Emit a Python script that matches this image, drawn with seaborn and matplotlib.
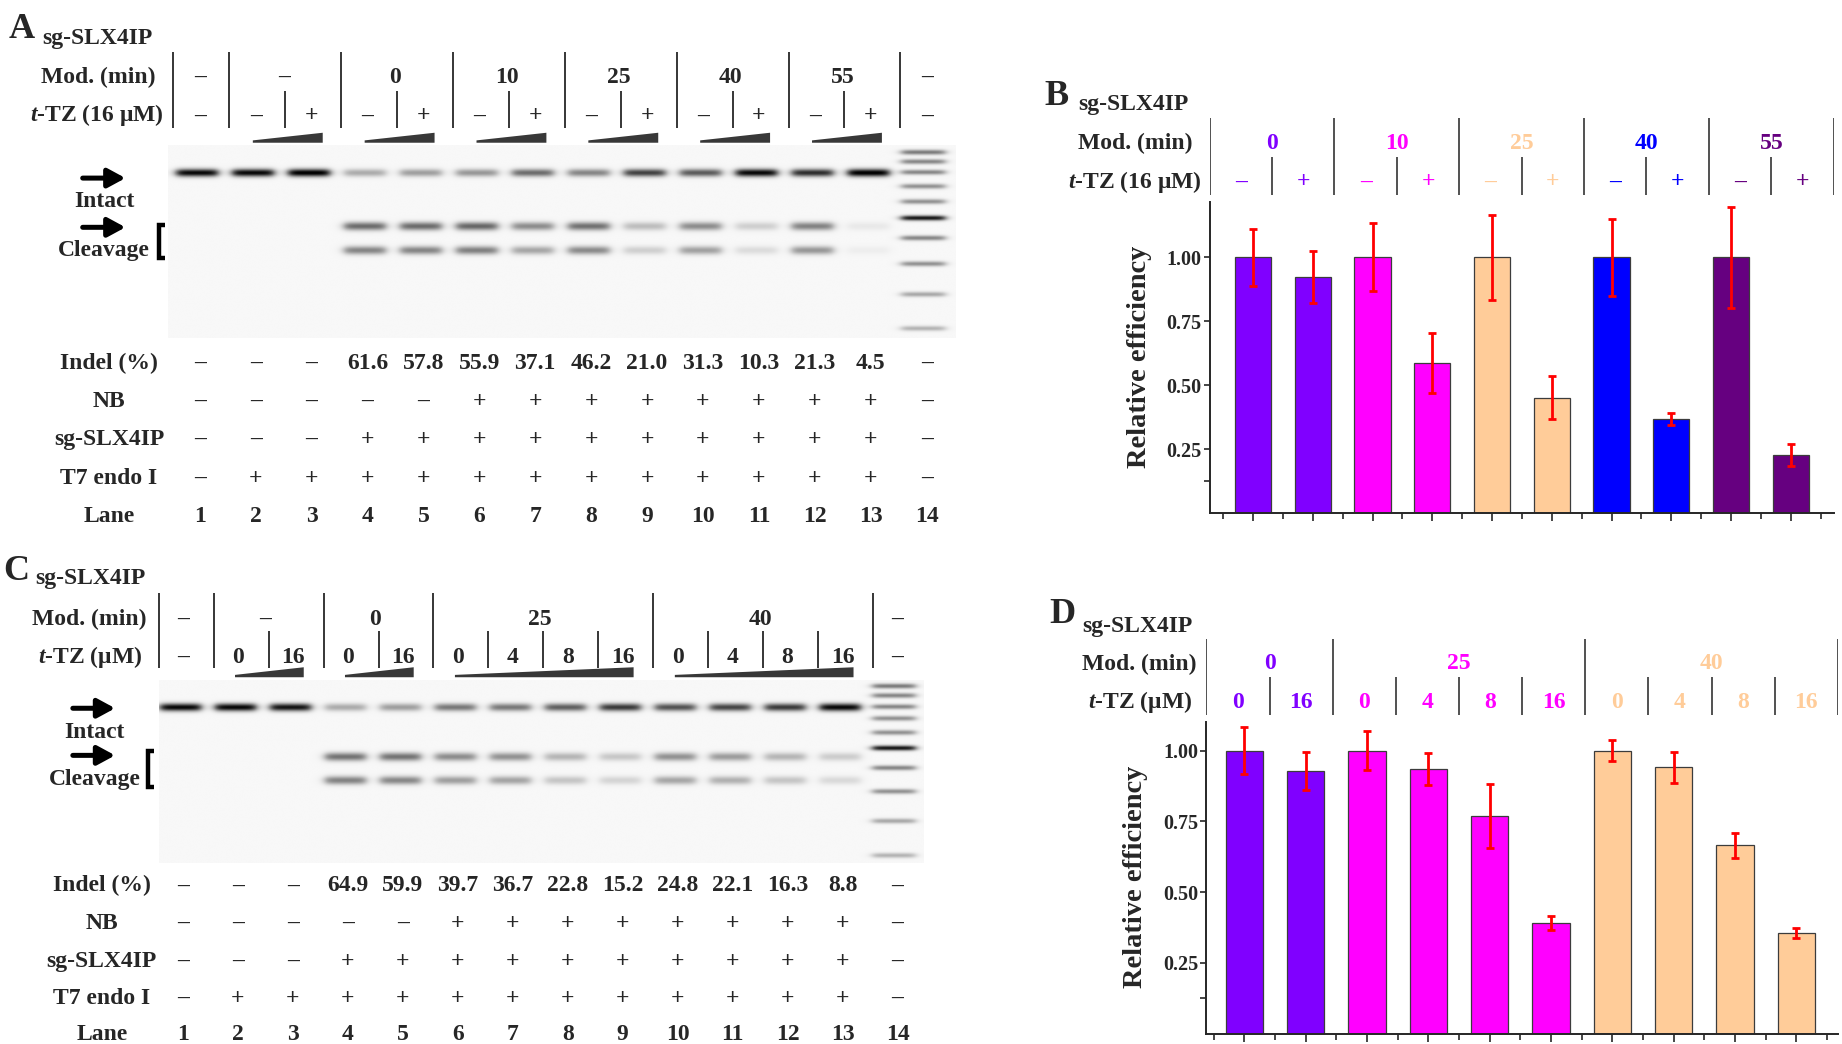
import numpy as np
import pandas as pd
import matplotlib
matplotlib.use("Agg")
import matplotlib.pyplot as plt
import seaborn as sns
from matplotlib.ticker import FixedLocator, FormatStrFormatter

sns.set_style("ticks")
plt.rcParams['font.family'] = ['Liberation Serif', 'DejaVu Serif']
plt.rcParams['font.weight'] = 'bold'
plt.rcParams['mathtext.fontset'] = 'custom'
plt.rcParams['mathtext.it'] = 'Liberation Serif:italic:bold'
plt.rcParams['mathtext.rm'] = 'Liberation Serif:bold'
plt.rcParams['mathtext.bf'] = 'Liberation Serif:bold'

# ---------------------------------------------------------------- data
lanes = list(range(1, 15))
row_names = ["Indel (%)", "NB", "sg-SLX4IP", "T7 endo I", "Lane"]

A_mod_labels = ["–", "–", "0", "10", "25", "40", "55", "–"]
A_mod_spans = [(1, 1), (2, 3), (4, 5), (6, 7), (8, 9), (10, 11), (12, 13), (14, 14)]
A_ttz = ["–", "–", "+", "–", "+", "–", "+", "–", "+", "–", "+", "–", "+", "–"]
A_wedges = [(2, 3), (4, 5), (6, 7), (8, 9), (10, 11), (12, 13)]
A_indel = ["–", "–", "–", "61.6", "57.8", "55.9", "37.1", "46.2", "21.0",
           "31.3", "10.3", "21.3", "4.5", "–"]
NB_row = ["–"] * 5 + ["+"] * 8 + ["–"]
SG_row = ["–"] * 3 + ["+"] * 10 + ["–"]
T7_row = ["–"] + ["+"] * 12 + ["–"]
A_intact = [0.95, 0.95, 1.00, 0.30, 0.35, 0.38, 0.55, 0.45, 0.72, 0.62, 0.95, 0.80, 1.00]
A_cleave1 = [0, 0, 0, 0.55, 0.55, 0.57, 0.42, 0.53, 0.23, 0.42, 0.16, 0.46, 0.06]
A_cleave2 = [0, 0, 0, 0.45, 0.45, 0.47, 0.32, 0.43, 0.16, 0.34, 0.11, 0.38, 0.04]

C_mod_labels = ["–", "–", "0", "25", "40", "–"]
C_mod_spans = [(1, 1), (2, 3), (4, 5), (6, 9), (10, 13), (14, 14)]
C_ttz = ["–", "0", "16", "0", "16", "0", "4", "8", "16", "0", "4", "8", "16", "–"]
C_wedges = [(2, 3), (4, 5), (6, 9), (10, 13)]
C_indel = ["–", "–", "–", "64.9", "59.9", "39.7", "36.7", "22.8", "15.2",
           "24.8", "22.1", "16.3", "8.8", "–"]
C_intact = [0.95, 0.95, 0.90, 0.30, 0.35, 0.50, 0.50, 0.60, 0.75, 0.65, 0.70, 0.75, 0.95]
C_cleave1 = [0, 0, 0, 0.52, 0.52, 0.42, 0.40, 0.26, 0.19, 0.40, 0.36, 0.26, 0.17]
C_cleave2 = [0, 0, 0, 0.46, 0.44, 0.35, 0.33, 0.20, 0.14, 0.32, 0.28, 0.20, 0.12]

ladder_int = [0.55, 0.50, 0.50, 0.45, 0.45, 1.00, 0.50, 0.45, 0.35, 0.30]

B_mod_labels = ["0", "10", "25", "40", "55"]
B_mod_spans = [(0, 1), (2, 3), (4, 5), (6, 7), (8, 9)]
B_ttz = ["–", "+", "–", "+", "–", "+", "–", "+", "–", "+"]
B_values = [1.00, 0.923, 1.00, 0.587, 1.00, 0.452, 1.00, 0.368, 1.00, 0.229]
B_errors = [0.112, 0.101, 0.132, 0.116, 0.165, 0.085, 0.150, 0.024, 0.198, 0.043]
B_group_colors = ["#8000FF", "#FF00FF", "#FFCC99", "#0000FF", "#660080"]

D_mod_labels = ["0", "25", "40"]
D_mod_spans = [(0, 1), (2, 5), (6, 9)]
D_ttz = ["0", "16", "0", "4", "8", "16", "0", "4", "8", "16"]
D_values = [1.00, 0.927, 1.00, 0.934, 0.768, 0.392, 1.00, 0.941, 0.666, 0.356]
D_errors = [0.083, 0.067, 0.070, 0.056, 0.113, 0.025, 0.036, 0.054, 0.044, 0.017]
D_group_colors = ["#8000FF", "#FF00FF", "#FFCC99"]

# ---------------------------------------------------------------- figure
W, H = 1568.0, 888.7          # layout units (scaled to 1842x1044 output)
fig = plt.figure(figsize=(18.42, 10.44), dpi=100)
fig.patch.set_facecolor("white")
FS = 17


def frect(x0, y0, x1, y1):
    return [x0 / W, 1 - y1 / H, (x1 - x0) / W, (y1 - y0) / H]


def ftext(x, y, s, **kw):
    fig.text(x / W, 1 - y / H, s, **kw)


def panel_label(x, y, letter, xs, ys):
    ftext(x, y, letter, fontsize=26, ha="left", va="baseline", fontweight="bold")
    ftext(xs, ys, "sg-SLX4IP", fontsize=FS, ha="left", va="baseline", fontweight="bold")


def gel_panel(area, lane1_x, dlane, spec):
    x0d, y0d, x1d, y1d = area
    ax = fig.add_axes(frect(x0d, y0d, x1d, y1d))
    L = lambda xd: (xd - lane1_x) / dlane + 1
    ax.set_axis_off()

    # header divider lines
    for (a, b) in spec["mod_spans"]:
        ax.vlines(a - 0.5 + spec["vshift"], spec["hdr_top"], spec["hdr_bot"], color="k", lw=1.1)
        for k in range(a, b):
            ax.vlines(k + 0.5 + spec["vshift"], spec["short_top"], spec["hdr_bot"], color="k", lw=1.1)
    # header texts
    off = 6.3
    ax.text(L(spec["lab_right"]), spec["mod_y"] + off, "Mod. (min)", ha="right", va="baseline", fontsize=FS)
    ax.text(L(spec["lab_right2"]), spec["ttz_y"] + off, spec["ttz_label"], ha="right", va="baseline", fontsize=FS)
    for lab, (a, b) in zip(spec["mod_labels"], spec["mod_spans"]):
        ax.text((a + b) / 2, spec["mod_y"] + off, lab, ha="center", va="baseline", fontsize=FS)
    for ln, lab in zip(lanes, spec["ttz"]):
        ax.text(ln, spec["ttz_y"] + off, lab, ha="center", va="baseline", fontsize=FS)
    # wedges
    for (a, b) in spec["wedges"]:
        xa, xb = a - 0.05, b + 0.2
        ax.fill([xa, xb, xb, xa], [spec["w_bot"], spec["w_bot"], spec["w_bot"] - 8.5, spec["w_bot"] - 2.0],
                color="#383838", lw=0)

    # gel image built from band intensities
    gx0, gx1 = L(spec["gel_x"][0]), L(spec["gel_x"][1])
    gy0, gy1 = spec["gel_y"]
    xs = np.linspace(gx0, gx1, 1400)
    ys = np.linspace(gy0, gy1, 500)
    X, Y = np.meshgrid(xs, ys)
    img = np.full_like(X, 0.03)

    def hbox(xc, half, soft=0.045):
        return 1.0 / (1.0 + np.exp((np.abs(X - xc) - half) / soft))

    rows = [(spec["band_y"][0], spec["intact"], 2.3),
            (spec["band_y"][1], spec["cleave1"], 2.5),
            (spec["band_y"][2], spec["cleave2"], 2.5)]
    for yr, ints, sig in rows:
        for ln, inten in zip(lanes[:13], ints):
            if inten > 0:
                img += inten * hbox(ln - 0.05, 0.37) * np.exp(-0.5 * ((Y - yr) / sig) ** 2)
    for yr, inten in zip(spec["ladder_y"], ladder_int):
        img += inten * 0.9 * hbox(13.93, 0.39) * np.exp(-0.5 * ((Y - yr) / 1.5) ** 2)
    img = np.clip(img, 0, 1)
    ax.imshow(img, cmap="gray_r", vmin=0, vmax=1, extent=(gx0, gx1, gy1, gy0),
              aspect="auto", interpolation="bilinear", zorder=0)

    # arrows / labels
    ax0, ax1 = spec["arrow_x"]
    for yy in spec["arrow_y"]:
        ax.annotate("", xy=(L(ax1), yy), xytext=(L(ax0), yy),
                    arrowprops=dict(arrowstyle="-|>,head_width=0.38,head_length=0.7",
                                    lw=3.6, color="k", mutation_scale=15, shrinkA=0, shrinkB=0))
    ax.text(L(spec["lbl_x"]), spec["intact_y"] + off, "Intact", ha="center", va="baseline", fontsize=FS)
    ax.text(L(spec["lbl_x"]), spec["cleav_y"] + off, "Cleavage", ha="center", va="baseline", fontsize=FS)
    bx0, bx1 = spec["brk_x"]
    by0, by1 = spec["brk_y"]
    ax.plot([L(bx1), L(bx0), L(bx0), L(bx1)], [by0, by0, by1, by1], color="k", lw=3.2,
            solid_capstyle="butt", solid_joinstyle="miter")

    # bottom rows
    for name, vals, yy in zip(row_names, spec["rows"], spec["rows_y"]):
        ax.text(L(spec["row_lab_x"]), yy + off, name, ha="center", va="baseline", fontsize=FS)
        for ln, v in zip(lanes, vals):
            ax.text(ln, yy + off, v, ha="center", va="baseline", fontsize=FS)

    ax.set_xlim(L(x0d), L(x1d))
    ax.set_ylim(y1d, y0d)
    return ax


# ---------------- Panel A
panel_label(7.0, 32.4, "A", 36, 37.6)
gel_panel((0, 0, 840, 455), 170.0, 47.6, dict(
    mod_spans=A_mod_spans, mod_labels=A_mod_labels, ttz=A_ttz, wedges=A_wedges,
    vshift=0.03, hdr_top=44, hdr_bot=109, short_top=77.2,
    lab_right=132, lab_right2=139.7, ttz_label=r"$\mathit{t}$-TZ (16 μM)",
    mod_y=64.2, ttz_y=97, w_bot=121.5,
    gel_x=(143, 813), gel_y=(124, 288),
    band_y=(147.5, 193, 213.5), intact=A_intact, cleave1=A_cleave1, cleave2=A_cleave2,
    ladder_y=[130, 138, 147, 159, 172, 186, 203, 225, 251, 280],
    arrow_x=(70.4, 106.8), arrow_y=(151.6, 193.5), lbl_x=88.6, intact_y=170, cleav_y=212,
    brk_x=(135.5, 140.5), brk_y=(191.5, 219.5),
    rows=[A_indel, NB_row, SG_row, T7_row, [str(l) for l in lanes]],
    rows_y=[307.8, 340.3, 372.6, 405.6, 438], row_lab_x=92.8))

# ---------------- Panel C
panel_label(2.5, 494, "C", 30, 497)
gel_panel((0, 460, 840, 888.7), 155.6, 46.8, dict(
    mod_spans=C_mod_spans, mod_labels=C_mod_labels, ttz=C_ttz, wedges=C_wedges,
    vshift=0.06, hdr_top=504.6, hdr_bot=568.7, short_top=537,
    lab_right=125, lab_right2=121.5, ttz_label=r"$\mathit{t}$-TZ (μM)",
    mod_y=526, ttz_y=558, w_bot=576.5,
    gel_x=(135, 786), gel_y=(580, 735),
    band_y=(603, 645, 665), intact=C_intact, cleave1=C_cleave1, cleave2=C_cleave2,
    ladder_y=[585, 593, 602.5, 612.4, 624.4, 637.6, 654.4, 674.4, 699.5, 728.7],
    arrow_x=(62, 98), arrow_y=(602.9, 643), lbl_x=80.6, intact_y=621.9, cleav_y=661.9,
    brk_x=(126, 131), brk_y=(639, 670),
    rows=[C_indel, NB_row, SG_row, T7_row, [str(l) for l in lanes]],
    rows_y=[752.5, 784.5, 816.5, 848.5, 878.8], row_lab_x=86.7))


# ---------------- bar panels
def bar_panel(ax_area, hdr_area, mod_labels, mod_spans, ttz, values, errors, group_colors,
              xlim, ylim, mod_lab_x, ttz_lab_x, ttz_label, ylab_xy):
    colors = []
    mod_col = []
    for (a, b), c in zip(mod_spans, group_colors):
        colors += [c] * (b - a + 1)
        mod_col.append(c)
    cats = [f"{i}" for i in range(len(values))]
    df = pd.DataFrame({"cond": cats, "value": values})

    ax = fig.add_axes(frect(*ax_area))
    sns.barplot(data=df, x="cond", y="value", hue="cond", order=cats, hue_order=cats,
                palette=dict(zip(cats, colors)), legend=False, width=0.61, saturation=1,
                edgecolor="#3c3c3c", linewidth=0.9, ax=ax)
    ax.errorbar(np.arange(len(values)), values, yerr=errors, fmt="none", ecolor="red",
                elinewidth=2.0, capsize=3.2, capthick=2.0, zorder=5)
    ax.set_xlim(*xlim)
    ax.set_ylim(*ylim)
    ax.set_xlabel("")
    ax.set_ylabel("")
    sns.despine(ax=ax)
    for sp in ("left", "bottom"):
        ax.spines[sp].set_linewidth(1.4)
    ax.xaxis.set_major_locator(FixedLocator(np.arange(len(values))))
    ax.xaxis.set_minor_locator(FixedLocator(np.arange(len(values) + 1) - 0.5))
    ax.tick_params(axis="x", which="major", length=6, width=1.2, direction="out", labelbottom=False)
    ax.tick_params(axis="x", which="minor", length=4, width=1.2, direction="out")
    ax.yaxis.set_major_locator(FixedLocator([0.25, 0.50, 0.75, 1.00]))
    ax.yaxis.set_minor_locator(FixedLocator([0.125]))
    ax.yaxis.set_major_formatter(FormatStrFormatter("%.2f"))
    ax.tick_params(axis="y", which="both", length=4, width=1.2, direction="out", labelsize=14.5, pad=2)
    for t in ax.get_yticklabels():
        t.set_fontweight("bold")
    ftext(ylab_xy[0], ylab_xy[1], "Relative efficiency", rotation=90, ha="center", va="center",
          fontsize=20.5, fontweight="bold")

    hx = fig.add_axes(frect(*hdr_area))
    hx.set_axis_off()
    n = len(values)
    hx.set_xlim(0, n)
    hx.set_ylim(0, 1)
    for (a, b) in mod_spans:
        hx.vlines(a, 0, 1, color="#222222", lw=1.1)
        for k in range(a + 1, b + 1):
            hx.vlines(k, 0, 0.5, color="#222222", lw=1.1)
    hx.vlines(n, 0, 1, color="#222222", lw=1.1)
    hx.text(mod_lab_x, 0.672, "Mod. (min)", ha="right", va="center", fontsize=FS)
    hx.text(ttz_lab_x, 0.17, ttz_label, ha="right", va="center", fontsize=FS)
    for lab, (a, b), c in zip(mod_labels, mod_spans, mod_col):
        hx.text((a + b + 1) / 2, 0.672, lab, ha="center", va="center", fontsize=FS, color=c)
    for i, (lab, c) in enumerate(zip(ttz, colors)):
        hx.text(i + 0.5, 0.17, lab, ha="center", va="center", fontsize=FS, color=c)
    return ax


panel_label(889, 89, "B", 918, 93.6)
bar_panel((1029.6, 171.7, 1561, 437), (1029.6, 100.5, 1561, 166),
          B_mod_labels, B_mod_spans, B_ttz, B_values, B_errors, B_group_colors,
          (-0.728, 9.72), (0, 1.217), -0.28, -0.13, r"$\mathit{t}$-TZ (16 μM)", (970, 304))

panel_label(893, 530, "D", 921, 537.7)
bar_panel((1027, 614.8, 1564.5, 880), (1027, 544, 1564.5, 608.6),
          D_mod_labels, D_mod_spans, D_ttz, D_values, D_errors, D_group_colors,
          (-0.62, 9.68), (0, 1.10), -0.15, -0.22, r"$\mathit{t}$-TZ (μM)", (967, 746.6))

fig.savefig("out.png", dpi=100, facecolor="white")
